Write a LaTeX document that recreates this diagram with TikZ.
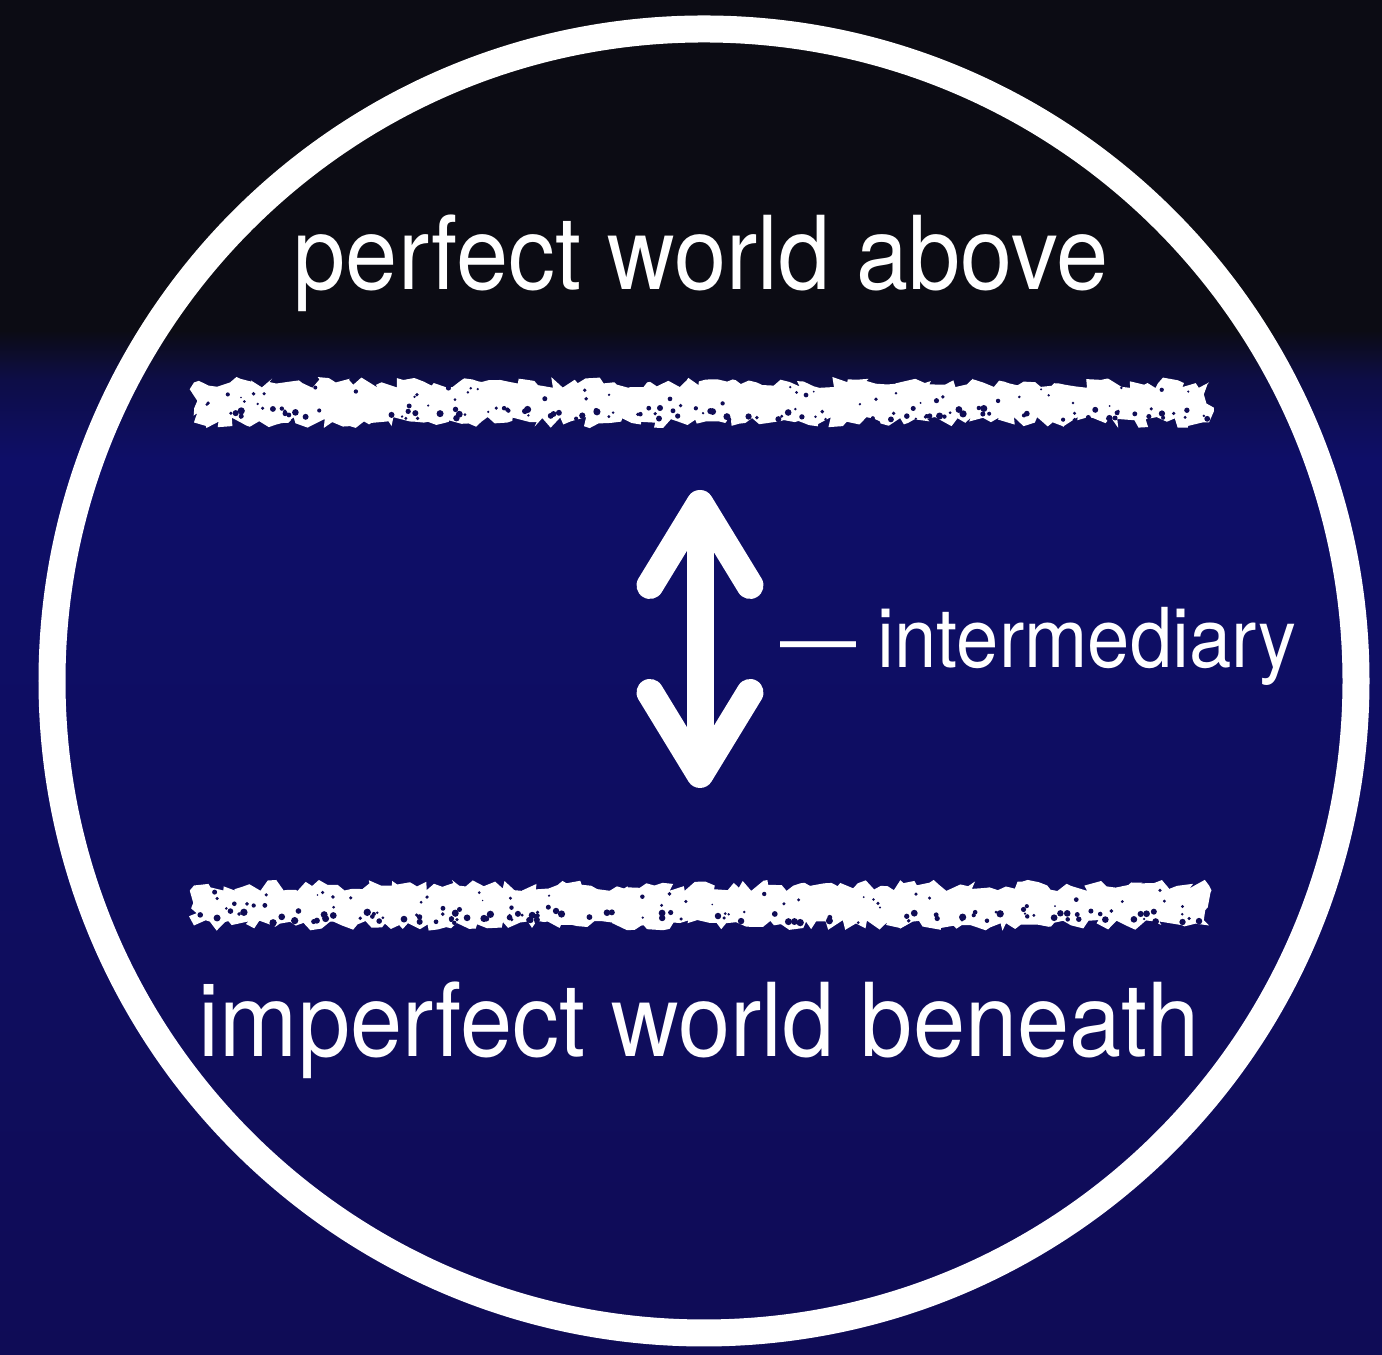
\documentclass[tikz,border=0pt]{standalone}
\usepackage{fontspec}
\newfontfamily\heros[FakeStretch=0.92]{TeX Gyre Heros}
\usetikzlibrary{arrows.meta,decorations.pathmorphing}

\definecolor{night}{RGB}{12,12,20}
\definecolor{navy}{RGB}{15,12,86}
\definecolor{deepblue}{RGB}{14,14,104}
\pgfdeclareverticalshading{skyfade}{100bp}{color(0bp)=(navy); color(25bp)=(navy);
  color(58bp)=(deepblue); color(61bp)=(deepblue!60!night); color(62.8bp)=(night); color(100bp)=(night)}

\begin{document}
\begin{tikzpicture}[
  world/.style={font=\heros\fontsize{29}{34}\selectfont, text=white, inner sep=0pt, anchor=base},
  aside/.style={font=\heros\fontsize{23.5}{28}\selectfont, text=white, inner sep=0pt, anchor=base west},
  ring/.style={circle, draw=white, line width=0.27cm, minimum size=13.04cm, inner sep=0pt},
  chalkbar/.style={rectangle, fill=white, minimum width=10.15cm, minimum height=0.40cm, inner sep=0pt,
    decorate, decoration={random steps, segment length=2pt, amplitude=1.6pt}},
  updown/.style={{Straight Barb[length=8.2mm, width=10mm, round]}-{Straight Barb[length=8.2mm, width=10mm, round]},
    line width=0.27cm, draw=white},
]
\useasboundingbox (0,0) rectangle (13.82,13.55);
\pgfmathsetseed{17}

% === background ===
\shade[shading=skyfade] (0,0) rectangle (13.82,13.55);

% === circle ===
\node[ring] (sphere) at (7.04,6.74) {};

% === texts ===
\node[world] (above) at (7.01,10.65) {perfect world above};
\node[world] (beneath) at (6.99,2.98) {imperfect world beneath};
\node[aside] (inter) at (7.80,6.87) {— intermediary};

% === chalk lines ===
\node[chalkbar] (upperbar) at (7.015,9.525) {};
\node[chalkbar] (lowerbar) at (7.015,4.495) {};
\foreach \bar/\y in {upperbar/9.30, lowerbar/4.27} {
  \foreach \i in {1,...,110}
    \fill[navy] ({1.98+10.1*rnd},{\y+0.05+0.12*rnd}) circle ({0.012+0.025*rnd});
  \foreach \i in {1,...,45}
    \fill[navy] ({1.98+10.1*rnd},{\y+0.18+0.20*rnd}) circle ({0.008+0.018*rnd});
}

% === arrow ===
\coordinate (uptip) at (7.00,8.65);
\coordinate (downtip) at (7.00,5.67);
\draw[updown] (uptip) -- (downtip);

\end{tikzpicture}
\end{document}
